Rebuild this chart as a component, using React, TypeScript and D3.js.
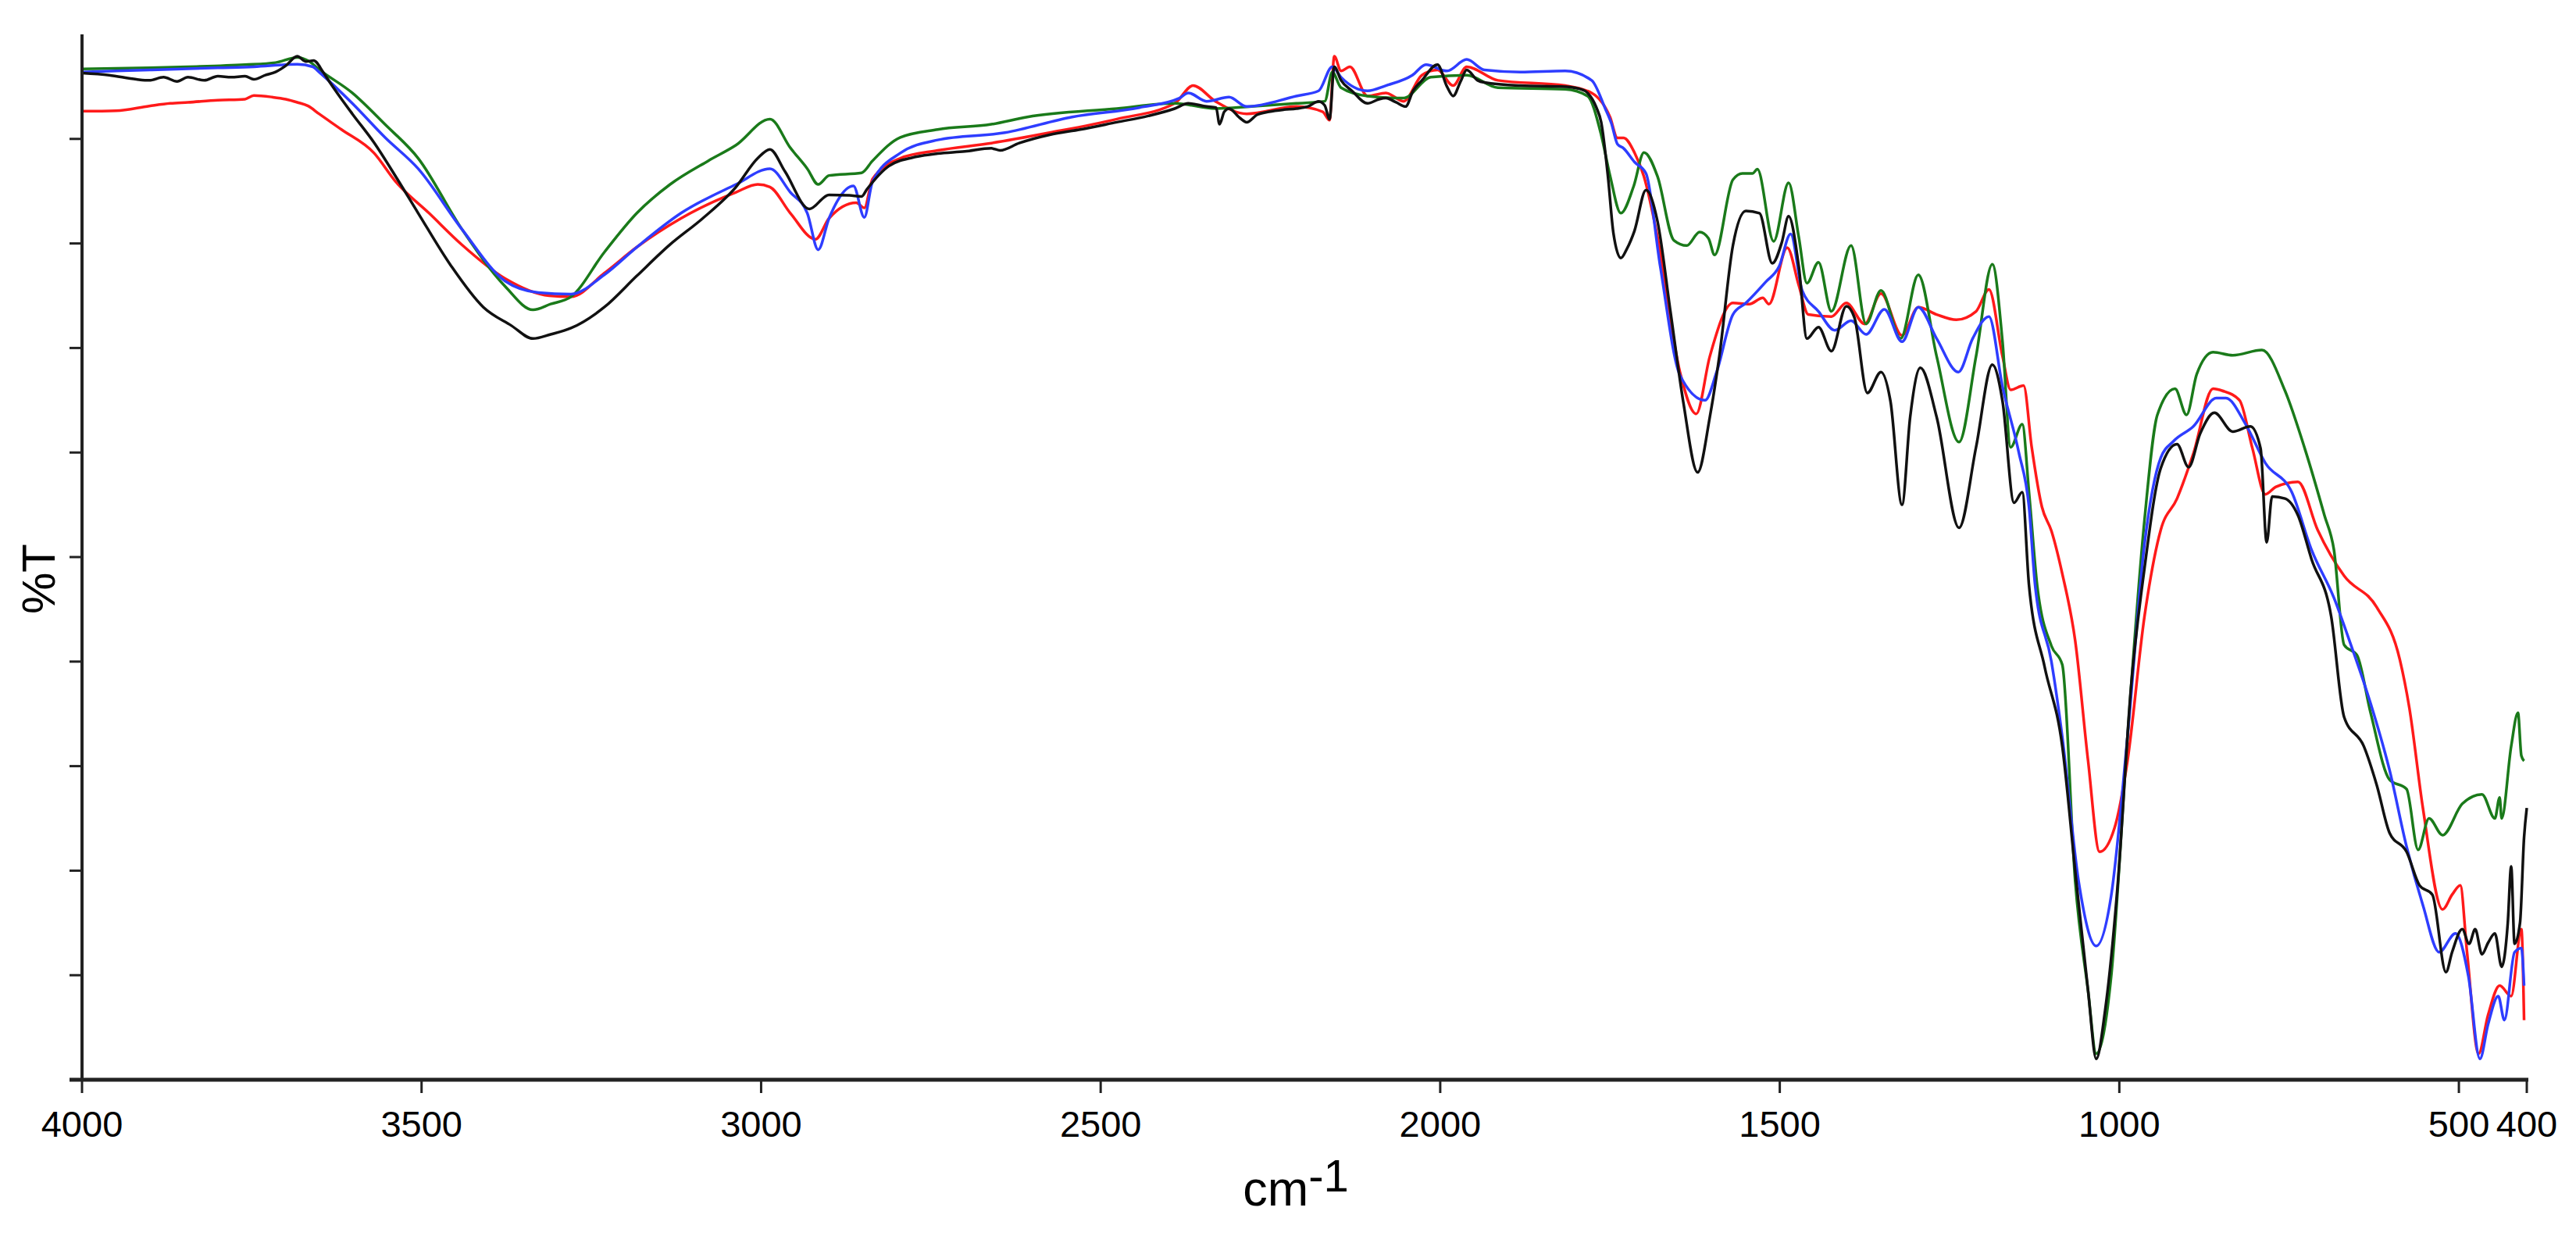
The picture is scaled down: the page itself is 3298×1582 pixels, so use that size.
import React from "react";
import * as d3 from "d3";

// FTIR spectra, [wavenumber cm-1, %T]
const blackSpectrum: [number, number][] = [
  [4000, 96.3], [3960, 96.1], [3920, 95.7], [3901, 95.6], [3880, 95.9], [3860, 95.5], [3844, 95.9], [3820, 95.6],
  [3800, 96.0], [3780, 95.9], [3760, 96.0], [3747, 95.7], [3730, 96.1], [3715, 96.4], [3700, 97.0], [3683, 97.9],
  [3670, 97.4], [3659, 97.5], [3645, 96.4], [3635, 95.4], [3620, 94.0], [3602, 92.4], [3570, 89.65], [3538, 86.4],
  [3505, 82.9], [3457, 77.9], [3409, 73.9], [3368, 72.15], [3336, 70.9], [3310, 71.3], [3280, 71.9], [3231, 73.9],
  [3183, 76.9], [3134, 79.9], [3086, 82.4], [3037, 85.4], [3005, 88.15], [2987, 89.0], [2965, 86.9], [2929, 83.3],
  [2900, 84.65], [2870, 84.6], [2852, 84.5], [2844, 85.2], [2812, 87.4], [2771, 88.3], [2740, 88.6], [2700, 88.8],
  [2661, 89.1], [2648, 88.9], [2620, 89.6], [2575, 90.4], [2530, 90.9], [2476, 91.6], [2430, 92.2], [2391, 92.9],
  [2371, 93.4], [2344, 93.1], [2330, 93.0], [2325, 91.4], [2318, 92.6], [2311, 92.9], [2295, 92.0], [2285, 91.6],
  [2270, 92.3], [2252, 92.6], [2230, 92.8], [2212, 92.9], [2195, 93.1], [2179, 93.6], [2170, 93.2], [2163, 91.9],
  [2156, 96.9], [2146, 95.6], [2130, 94.6], [2107, 93.4], [2090, 93.8], [2080, 93.9], [2065, 93.5], [2051, 93.1],
  [2040, 94.6], [2027, 95.6], [2004, 97.1], [1990, 95.0], [1981, 94.1], [1970, 95.5], [1961, 96.6], [1945, 95.6],
  [1935, 95.4], [1882, 95.1], [1816, 95.0], [1795, 94.8], [1783, 94.4], [1770, 93.0], [1763, 91.6], [1753, 86.4],
  [1745, 81.0], [1734, 78.6], [1725, 79.5], [1714, 81.2], [1697, 85.1], [1680, 82.1], [1661, 73.5], [1642, 64.8],
  [1621, 58.1], [1603, 63.4], [1589, 69.2], [1569, 79.8], [1550, 83.1], [1530, 82.9], [1511, 78.1], [1497, 80.1],
  [1487, 82.6], [1472, 77.8], [1460, 70.9], [1443, 72.0], [1424, 69.7], [1402, 74.0], [1390, 72.9], [1371, 65.7],
  [1351, 67.7], [1337, 64.9], [1320, 55.0], [1308, 63.4], [1293, 68.1], [1269, 63.4], [1236, 52.8], [1211, 60.5],
  [1187, 68.4], [1172, 64.9], [1155, 55.2], [1143, 56.2], [1133, 47.3], [1110, 39.5], [1084, 31.9], [1065, 20.0],
  [1046, 8.5], [1034, 2.0], [1021, 6.6], [1002, 19.0], [983, 37.4], [963, 48.9], [939, 58.5], [915, 60.8],
  [898, 58.6], [881, 61.8], [860, 63.8], [833, 62.0], [807, 62.5], [792, 60.4], [783, 51.4], [775, 55.8],
  [756, 55.6], [737, 54.0], [717, 49.8], [688, 44.3], [669, 34.7], [640, 31.9], [621, 28.2], [602, 23.6],
  [577, 21.8], [558, 18.6], [539, 17.7], [519, 10.3], [510, 12.2], [495, 14.4], [485, 13.0], [476, 14.4],
  [466, 12.0], [457, 13.1], [447, 14.0], [437, 10.8], [428, 15.0], [423, 20.4], [418, 13.0], [410, 15.0],
  [404, 23.2], [400, 26.0],
];

const redSpectrum: [number, number][] = [
  [4000, 92.65], [3950, 92.7], [3901, 93.15], [3870, 93.4], [3844, 93.5], [3800, 93.7], [3760, 93.8], [3747, 94.15],
  [3720, 94.0], [3700, 93.8], [3683, 93.5], [3667, 93.15], [3651, 92.4], [3618, 90.9], [3570, 88.65], [3538, 85.9],
  [3489, 82.9], [3441, 79.9], [3377, 76.65], [3312, 75.0], [3280, 74.9], [3231, 77.15], [3183, 79.65], [3118, 82.4],
  [3037, 84.9], [3005, 85.65], [2987, 85.4], [2957, 82.9], [2920, 80.4], [2900, 82.4], [2860, 83.9], [2848, 83.4],
  [2836, 86.15], [2795, 88.15], [2740, 88.9], [2661, 89.6], [2575, 90.6], [2476, 91.9], [2391, 93.4], [2364, 95.1],
  [2331, 93.6], [2285, 92.4], [2212, 93.1], [2173, 92.6], [2163, 91.8], [2156, 97.9], [2146, 96.5], [2133, 96.9],
  [2107, 94.1], [2080, 94.4], [2054, 93.6], [2027, 96.1], [2004, 96.6], [1981, 95.1], [1961, 96.9], [1915, 95.6],
  [1816, 95.1], [1777, 94.4], [1750, 92.1], [1739, 90.1], [1730, 90.1], [1714, 88.7], [1700, 86.4], [1680, 80.6],
  [1647, 67.7], [1623, 63.7], [1603, 69.2], [1569, 74.3], [1545, 74.2], [1525, 74.8], [1516, 74.2], [1489, 79.6],
  [1472, 76.0], [1458, 73.2], [1424, 73.0], [1402, 74.3], [1375, 72.3], [1351, 75.2], [1320, 71.2], [1296, 73.9],
  [1269, 73.2], [1240, 72.7], [1211, 73.5], [1192, 75.6], [1172, 69.2], [1160, 66.0], [1141, 66.4], [1129, 60.5],
  [1114, 54.8], [1100, 52.5], [1084, 48.4], [1065, 42.0], [1046, 30.5], [1029, 21.8], [1007, 24.1], [988, 30.5],
  [963, 44.3], [939, 52.6], [915, 55.6], [891, 59.9], [862, 66.1], [848, 65.9], [823, 65.0], [804, 60.4],
  [785, 56.0], [770, 56.7], [737, 57.2], [708, 52.6], [669, 48.2], [621, 45.2], [587, 40.2], [573, 35.6],
  [553, 26.0], [524, 16.3], [510, 17.7], [498, 18.6], [488, 12.2], [471, 2.5], [457, 6.2], [440, 9.0],
  [423, 8.0], [408, 14.4], [404, 5.7],
];

const blueSpectrum: [number, number][] = [
  [4000, 96.4], [3900, 96.6], [3800, 96.8], [3747, 96.9], [3700, 97.1], [3683, 97.15], [3660, 96.9], [3651, 96.4],
  [3602, 93.4], [3554, 90.15], [3505, 87.15], [3441, 81.4], [3377, 76.4], [3328, 75.3], [3280, 75.15], [3231, 77.0],
  [3183, 79.65], [3118, 82.9], [3037, 85.65], [2987, 87.15], [2957, 84.9], [2932, 82.9], [2916, 79.4], [2900, 82.4],
  [2864, 85.5], [2848, 82.5], [2836, 85.9], [2795, 88.65], [2740, 89.9], [2641, 90.6], [2542, 92.1], [2443, 93.0],
  [2384, 93.9], [2371, 94.4], [2344, 93.6], [2311, 94.0], [2285, 93.1], [2212, 94.1], [2179, 94.6], [2159, 96.9],
  [2146, 95.9], [2107, 94.6], [2080, 95.1], [2041, 96.1], [2021, 97.1], [1990, 96.5], [1961, 97.6], [1935, 96.6],
  [1882, 96.4], [1816, 96.5], [1777, 95.6], [1757, 92.9], [1748, 91.5], [1739, 89.5], [1730, 89.1], [1714, 87.8],
  [1697, 86.7], [1676, 77.8], [1647, 67.4], [1610, 65.0], [1593, 67.7], [1569, 73.2], [1550, 74.3], [1521, 76.3],
  [1501, 77.8], [1484, 80.9], [1467, 75.5], [1443, 73.5], [1419, 71.7], [1395, 72.6], [1373, 71.3], [1346, 73.7],
  [1320, 70.6], [1296, 73.9], [1269, 70.9], [1237, 67.7], [1216, 70.9], [1192, 73.0], [1172, 66.3], [1148, 60.0],
  [1133, 54.8], [1124, 47.3], [1100, 40.0], [1084, 32.8], [1060, 19.0], [1034, 12.8], [1012, 17.6], [988, 32.8],
  [963, 51.2], [939, 59.5], [920, 61.1], [891, 62.5], [857, 65.2], [843, 65.2], [814, 62.7], [785, 59.0],
  [746, 56.2], [717, 50.7], [684, 46.1], [659, 41.6], [630, 36.0], [602, 29.6], [577, 22.3], [553, 16.7],
  [529, 12.2], [505, 14.0], [486, 9.9], [469, 2.0], [457, 5.3], [442, 8.0], [433, 5.7], [418, 12.2],
  [408, 12.6], [404, 9.0],
];

const greenSpectrum: [number, number][] = [
  [4000, 96.7], [3900, 96.8], [3844, 96.9], [3760, 97.1], [3715, 97.3], [3683, 97.8], [3665, 97.4], [3651, 96.65],
  [3602, 94.4], [3554, 91.4], [3505, 88.15], [3441, 81.4], [3377, 75.9], [3336, 73.65], [3310, 74.2], [3280, 74.9],
  [3231, 79.15], [3183, 82.9], [3134, 85.65], [3078, 87.9], [3037, 89.4], [2987, 91.9], [2957, 89.15], [2932, 87.15],
  [2916, 85.65], [2900, 86.5], [2852, 86.75], [2836, 87.9], [2795, 90.15], [2740, 90.9], [2661, 91.4], [2608, 92.1],
  [2476, 92.9], [2391, 93.4], [2331, 92.9], [2278, 93.1], [2212, 93.4], [2170, 93.6], [2159, 96.4], [2146, 94.9],
  [2107, 94.1], [2054, 93.9], [2014, 95.9], [1961, 96.1], [1915, 94.9], [1816, 94.75], [1783, 94.1], [1763, 90.4],
  [1750, 86.5], [1734, 82.9], [1715, 85.5], [1700, 88.7], [1680, 86.4], [1656, 80.3], [1637, 79.8], [1618, 81.1],
  [1605, 80.5], [1596, 78.9], [1569, 86.1], [1555, 86.7], [1540, 86.7], [1533, 87.1], [1509, 80.2], [1487, 85.8],
  [1472, 80.6], [1460, 76.2], [1443, 78.2], [1424, 73.5], [1395, 79.8], [1373, 72.3], [1351, 75.5], [1322, 70.9],
  [1296, 77.0], [1269, 69.2], [1236, 61.0], [1211, 69.2], [1187, 78.0], [1172, 70.6], [1160, 60.5], [1143, 62.7],
  [1133, 56.2], [1121, 47.3], [1100, 41.5], [1084, 39.7], [1065, 19.0], [1046, 8.5], [1034, 2.5], [1012, 9.9],
  [988, 32.8], [963, 53.5], [944, 63.6], [918, 66.1], [901, 63.6], [886, 67.5], [862, 69.6], [833, 69.3],
  [790, 69.8], [756, 65.9], [727, 60.4], [698, 54.0], [684, 50.7], [669, 41.6], [650, 40.6], [630, 35.1],
  [602, 28.7], [577, 27.8], [560, 22.0], [544, 25.0], [524, 23.4], [495, 26.4], [466, 27.3], [447, 25.0],
  [440, 27.0], [437, 25.0], [423, 31.9], [413, 35.1], [408, 31.0], [404, 30.5],
];

const xTickValues = [4000, 3500, 3000, 2500, 2000, 1500, 1000, 500, 400];
const yTickValues = [0, 10, 20, 30, 40, 50, 60, 70, 80, 90];

const series = [
  { name: "red", color: "#ff1a1a", data: redSpectrum },
  { name: "green", color: "#1a7a1a", data: greenSpectrum },
  { name: "blue", color: "#2e3dff", data: blueSpectrum },
  { name: "black", color: "#111111", data: blackSpectrum },
];

const W = 3298;
const H = 1582;
const font = "'Liberation Sans', Arial, sans-serif";

export default function App() {
  const x = d3.scaleLinear().domain([4000, 400]).range([105, 3235]);
  const y = d3.scaleLinear().domain([0, 100]).range([1382, 44]);

  const line = d3
    .line<[number, number]>()
    .x((d) => x(d[0]))
    .y((d) => y(d[1]))
    .curve(d3.curveMonotoneX);

  return (
    <svg
      width={W}
      height={H}
      style={{ position: "absolute", left: 0, top: 0, background: "#fff" }}
    >
      {/* spectra */}
      {series.map((s) => (
        <path
          key={s.name}
          d={line(s.data) || ""}
          fill="none"
          stroke={s.color}
          strokeWidth={3.5}
          strokeLinejoin="round"
        />
      ))}

      {/* y axis */}
      <line x1={x(4000)} x2={x(4000)} y1={y(100)} y2={y(0) + 2} stroke="#222" strokeWidth={4} />
      {yTickValues.map((t) => (
        <line key={t} x1={x(4000) - 16} x2={x(4000)} y1={y(t)} y2={y(t)} stroke="#222" strokeWidth={3} />
      ))}

      {/* x axis */}
      <line x1={x(4000) - 16} x2={x(400) + 2} y1={y(0)} y2={y(0)} stroke="#222" strokeWidth={5} />
      {xTickValues.map((t) => (
        <g key={t} transform={`translate(${x(t)},${y(0)})`}>
          <line y1={0} y2={17} stroke="#222" strokeWidth={3} />
          <text y={73} textAnchor="middle" fontFamily={font} fontSize={47} fill="#000">
            {t}
          </text>
        </g>
      ))}

      {/* axis titles */}
      <text x={1659} y={1543} textAnchor="middle" fontFamily={font} fontSize={63} fill="#000">
        cm
        <tspan dy={-18} fontSize={58}>-1</tspan>
      </text>
      <text
        transform="translate(70,741) rotate(-90)"
        textAnchor="middle"
        fontFamily={font}
        fontSize={60}
        fill="#000"
      >
        %T
      </text>
    </svg>
  );
}
